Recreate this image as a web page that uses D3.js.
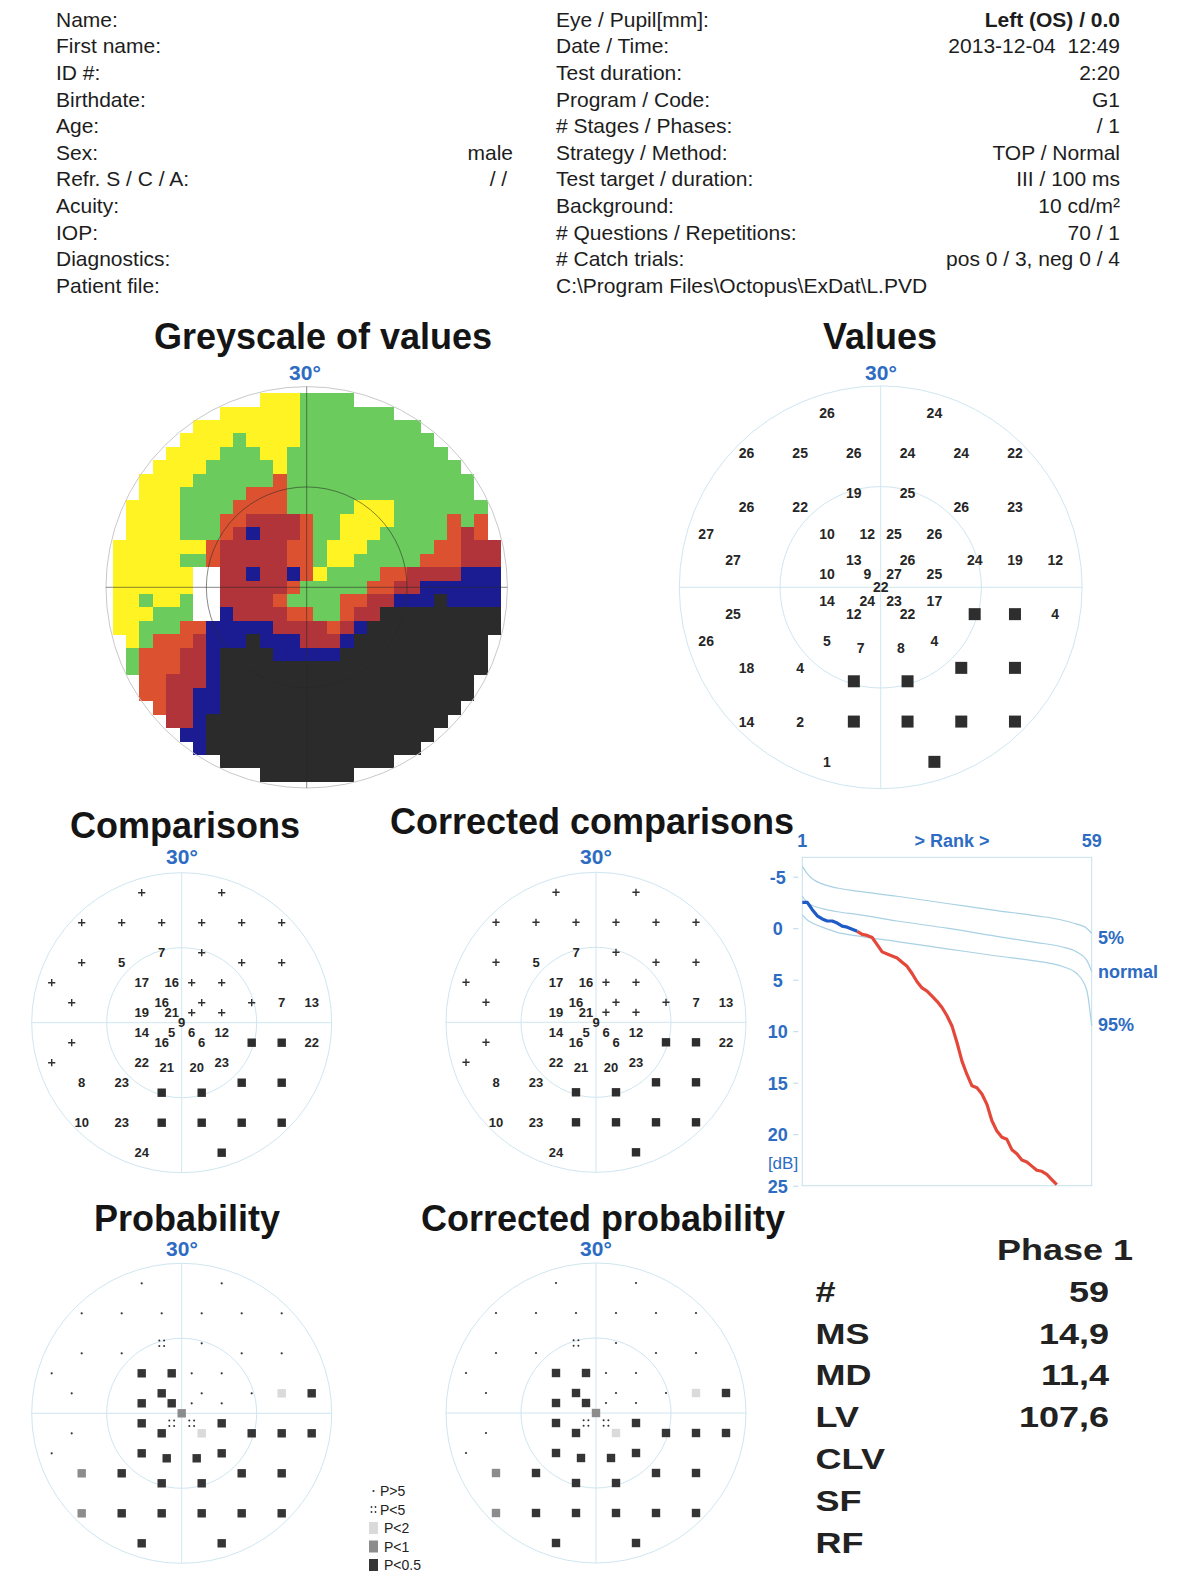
<!DOCTYPE html>
<html><head><meta charset="utf-8">
<script src="https://cdn.jsdelivr.net/npm/d3@7"></script>
<style>
html,body{margin:0;padding:0;background:#fff;}
svg{display:block;}
text{font-family:'Liberation Sans',Arial,sans-serif;}
</style></head><body>
<svg id="c" width="1200" height="1595"></svg>
<script>
// ---------------- DATA ----------------
const headerLeftLabels = ["Name:","First name:","ID #:","Birthdate:","Age:","Sex:","Refr. S / C / A:","Acuity:","IOP:","Diagnostics:","Patient file:"];
const headerLeftValues = ["","","","","","male","/ / ","","","",""];
const headerRightLabels = ["Eye / Pupil[mm]:","Date / Time:","Test duration:","Program / Code:","# Stages / Phases:","Strategy / Method:","Test target / duration:","Background:","# Questions / Repetitions:","# Catch trials:","C:\\Program Files\\Octopus\\ExDat\\L.PVD"];
const headerRightValues = ["Left (OS) / 0.0","2013-12-04  12:49","2:20","G1","/ 1","TOP / Normal","III / 100 ms","10 cd/m²","70 / 1","pos 0 / 3, neg 0 / 4",""];

// G1 test point locations (degrees)
const ptX = [-8,8, -20,-12,-4,4,12,20, -4,4, -20,-12,12,20, -26,-8,-2,2,8, -22,-4,4,14,20,26, -8,-2,2,8, 0, -8,-2,2,8, -22,-4,4,14,20,26, -26,-8,8, -3,3, -20,-12,12,20, -4,4, -20,-12,-4,4,12,20, -8,8];
const ptY = [26,26, 20,20,20,20,20,20, 14,14, 12,12,12,12, 8,8,8,8,8, 4,4,4,4,4,4, 2,2,2,2, 0, -2,-2,-2,-2, -4,-4,-4,-4,-4,-4, -8,-8,-8, -9,-9, -12,-12,-12,-12, -14,-14, -20,-20,-20,-20,-20,-20, -26,-26];
// threshold values (dB); null = absolute defect (black square)
const valuesDb = [26,24, 26,25,26,24,24,22, 19,25, 26,22,26,23, 27,10,12,25,26, 27,13,26,24,19,12, 10,9,27,25, 22, 14,24,23,17, 25,12,22,null,null,4, 26,5,4, 7,8, 18,4,null,null, null,null, 14,2,null,null,null,null, 1,null];
// comparisons (deviation dB); "+" = normal, null = absolute defect
const compDev = ["+","+", "+","+","+","+","+","+", 7,"+", "+",5,"+","+", "+",17,16,"+","+", "+",16,"+","+",7,13, 19,21,"+","+", 9, 14,5,6,12, "+",16,6,null,null,22, "+",22,23, 21,20, 8,23,null,null, null,null, 10,23,null,null,null,null, 24,null];
const corrCompDev = ["+","+", "+","+","+","+","+","+", 7,"+", "+",5,"+","+", "+",17,16,"+","+", "+",16,"+","+",7,13, 19,21,"+","+", 9, 14,5,6,12, "+",16,6,null,null,22, "+",22,23, 21,20, 8,23,null,null, null,null, 10,23,null,null,null,null, 24,null];
// probability class: 0 P>5, 1 P<5, 2 P<2, 3 P<1, 4 P<0.5
const probClass = [0,0, 0,0,0,0,0,0, 1,0, 0,0,0,0, 0,4,4,0,0, 0,4,0,0,2,4, 4,4,0,0, 3, 4,1,1,4, 0,4,2,4,4,4, 0,4,4, 4,4, 3,4,4,4, 4,4, 3,4,4,4,4,4, 4,4];
const corrProbClass = [0,0, 0,0,0,0,0,0, 1,0, 0,0,0,0, 0,4,4,0,0, 0,4,0,0,2,4, 4,4,0,0, 3, 4,1,1,4, 0,4,2,4,4,4, 0,4,4, 4,4, 3,4,4,4, 4,4, 3,4,4,4,4,4, 4,4];
const legendLabels = ["P>5","P<5","P<2","P<1","P<0.5"];

// Greyscale map cells (2° grid, rows top->bottom, cols left->right)
// Y yellow, G green, O orange-red, R dark red, B blue, K black, W blind spot
const greyRows = [
"...........YYYGGGG...........",
"........YYYYYYGGGGGGG........",
"......YYYYYYYYGGGGGGGGG......",
".....YYYYGYYYYGGGGGGGGGG.....",
"....YYYYGGGYYGGGGGGGGGGGG....",
"...YYYYGGGGGYGGGGGGGGGGGGG...",
"..YYYYGGGGGGOGGGGGGGGGGGGGG..",
"..YYYGGGGGOOOGGGGGGGGGGGGGG..",
".YYYYGGGGOOOOGGGGGYYYGGGGGGG.",
".YYYYGGGOORRRROGGYYYYGGGGOGO.",
".YYYYGGGORBRRROGGYYYGGGGGORO.",
"YYYYYYYORRRRROOGYYYGGGGGOORRR",
"YYYYYGGORRRRROOGYYGGGGGOOORRR",
"YYYYYYWWRRBRRBOYGGGGOORRRRBBB",
"YYYYYYWWRRRRROGGGGGOORRBBBBBB",
"YYGYYGWWRRRROGGGGOORRBBBKBBBB",
"YYYGGGWWBRRRROOGGORRKKKKKKKKK",
"YYGGGOOBBBBBRRRRORBKKKKKKKKKK",
".YGOOORBBBKBBBRRRBKKKKKKKKKK.",
".GOOORRBKKKKBBBBBKKKKKKKKKKK.",
".GOOORRBKKKKKKKKKKKKKKKKKKKK.",
"..OORRRBKKKKKKKKKKKKKKKKKKK..",
"..OORRBBKKKKKKKKKKKKKKKKKKK..",
"...ORRBBKKKKKKKKKKKKKKKKKK...",
"....RRBKKKKKKKKKKKKKKKKKK....",
".....BBKKKKKKKKKKKKKKKKK.....",
"......BKKKKKKKKKKKKKKKK......",
"........KKKKKKKKKKKKK........",
"...........KKKKKKK..........."
];

// Cumulative defect (Bebie) curve, dB by rank 1..52 (beyond 25 dB clipped)
const rankDefect = [-2.5,-2.5,-1.8,-1.2,-0.9,-0.7,-0.7,-0.5,-0.2,-0.1,0.1,0.3,0.6,0.7,0.9,1.6,2.3,2.5,2.7,2.9,3.3,3.7,4.4,5.2,5.8,6.1,6.6,7.1,7.7,8.5,9.5,11.1,12.9,14.2,15.3,15.5,16.1,17.1,18.7,19.7,20.3,20.5,21.5,21.9,22.5,22.7,23.1,23.5,23.6,23.9,24.4,24.9];
const bandRanks  = [1,2,3,5,8,12,20,30,40,48,53,56,58,59];
const band5      = [-6.0,-5.3,-4.8,-4.3,-3.9,-3.6,-3.1,-2.4,-1.7,-1.2,-0.8,-0.4,0.0,0.5];
const bandNormal = [-3.1,-2.5,-2.2,-1.9,-1.6,-1.35,-0.7,0.0,0.8,1.4,1.8,2.3,3.1,4.2];
const band95     = [-1.3,-0.8,-0.5,-0.1,0.4,0.75,1.3,2.0,2.7,3.2,3.7,4.4,6.0,9.5];
const dbTicks = [-5,0,5,10,15,20,25];
const bandLabels = ["5%","normal","95%"];

const phaseLabels = ["#","MS","MD","LV","CLV","SF","RF"];
const phaseValues = ["59","14,9","11,4","107,6","","",""];

// ---------------- DRAW ----------------
const svg = d3.select("#c");
const NARROW = "'Liberation Sans Narrow','Arial Narrow','Liberation Sans',Arial,sans-serif";
const BLUE = "#2d6cc2";
const idx = d3.range(ptX.length);

// header
const rowY = d3.scaleLinear().domain([0, 10]).range([26.7, 292.7]);
const hdr = svg.append("g").attr("font-size", 21).attr("fill", "#1d1d1d");
hdr.selectAll(null).data(headerLeftLabels).join("text")
  .attr("x", 56).attr("y", (d,i)=>rowY(i)).text(d=>d);
hdr.selectAll(null).data(headerLeftValues).join("text")
  .attr("x", 513).attr("y", (d,i)=>rowY(i)).attr("text-anchor","end")
  .style("white-space","pre").text(d=>d);
hdr.selectAll(null).data(headerRightLabels).join("text")
  .attr("x", 556).attr("y", (d,i)=>rowY(i)).text(d=>d);
hdr.selectAll(null).data(headerRightValues).join("text")
  .attr("x", 1120).attr("y", (d,i)=>rowY(i)).attr("text-anchor","end")
  .attr("font-weight", (d,i)=> i===0 ? "bold" : null)
  .style("white-space","pre").text(d=>d);

function title(t, x, y) {
  svg.append("text").attr("x", x).attr("y", y).attr("text-anchor","middle")
    .attr("font-size", 36).attr("font-weight","bold").attr("fill","#151515").text(t);
}
function degLabel(x, y) {
  svg.append("text").attr("x", x).attr("y", y).attr("text-anchor","middle")
    .attr("font-size", 21).attr("font-weight","bold").attr("fill", BLUE).text("30°");
}
function polar(cx, cy, r, lineColor, innerColor, crossColor) {
  const g = svg.append("g").attr("transform", `translate(${cx},${cy})`);
  const sx = d3.scaleLinear().domain([-30,30]).range([-r, r]);
  const sy = d3.scaleLinear().domain([-30,30]).range([r, -r]);
  return {g, sx, sy, frame: () => {
    const f = g.append("g").attr("fill","none");
    f.append("circle").attr("r", sx(30)).attr("stroke", lineColor).attr("stroke-width", 1);
    f.append("circle").attr("r", sx(15)).attr("stroke", innerColor || lineColor).attr("stroke-width", 1);
    f.append("line").attr("x1", sx(-30)).attr("x2", sx(30)).attr("y1",0).attr("y2",0)
      .attr("stroke", crossColor || lineColor).attr("stroke-width", 1);
    f.append("line").attr("y1", sy(30)).attr("y2", sy(-30)).attr("x1",0).attr("x2",0)
      .attr("stroke", crossColor || lineColor).attr("stroke-width", 1);
  }};
}

// ---- Greyscale of values
title("Greyscale of values", 323, 349);
degLabel(305, 380);
const colorMap = {Y:"#fff323", G:"#6bcb5c", O:"#dc5230", R:"#b1343a", B:"#1c1c92", K:"#2b2b2b", W:"#ffffff"};
const gs = polar(306.7, 587.3, 200.7, "#c9c9c9", "rgba(40,40,40,0.55)", "rgba(40,40,40,0.55)");
const cells = [];
greyRows.forEach((row, i) => row.split("").forEach((c, j) => {
  if (c !== ".") cells.push({xd: -28 + 2*j, yd: 28 - 2*i, c});
}));
gs.g.append("g").attr("shape-rendering","crispEdges").selectAll("rect").data(cells).join("rect")
  .attr("x", d => gs.sx(d.xd - 1)).attr("y", d => gs.sy(d.yd + 1))
  .attr("width", d => gs.sx(d.xd + 1) - gs.sx(d.xd - 1) + 0.4)
  .attr("height", d => gs.sy(d.yd - 1) - gs.sy(d.yd + 1) + 0.4)
  .attr("fill", d => colorMap[d.c]);
gs.frame();

// ---- Values
title("Values", 880, 349);
degLabel(881, 380);
const LB = "#cfe6f0";
const vp = polar(880.7, 587.3, 201.4, LB);
vp.frame();
vp.g.selectAll("text.v").data(idx.filter(i => valuesDb[i] !== null)).join("text")
  .attr("x", i => vp.sx(ptX[i])).attr("y", i => vp.sy(ptY[i])).attr("dy","0.36em")
  .attr("text-anchor","middle").attr("font-size", 14).attr("font-weight","bold").attr("fill","#262626")
  .text(i => valuesDb[i]);
vp.g.selectAll("rect.v").data(idx.filter(i => valuesDb[i] === null)).join("rect")
  .attr("x", i => vp.sx(ptX[i]) - 6).attr("y", i => vp.sy(ptY[i]) - 6)
  .attr("width", 12).attr("height", 12).attr("fill","#2e2e2e");

// ---- Comparisons
function compPlot(cx, cy, data) {
  const p = polar(cx, cy, 150, LB);
  p.frame();
  const nums = idx.filter(i => typeof data[i] === "number");
  p.g.selectAll("text.c").data(nums).join("text")
    .attr("x", i => p.sx(ptX[i])).attr("y", i => p.sy(ptY[i])).attr("dy","0.36em")
    .attr("text-anchor","middle").attr("font-size", 13).attr("font-weight","bold").attr("fill","#262626")
    .text(i => data[i]);
  p.g.selectAll("path.p").data(idx.filter(i => data[i] === "+")).join("path")
    .attr("transform", i => `translate(${p.sx(ptX[i])},${p.sy(ptY[i])})`)
    .attr("d","M-3.6,0H3.6M0,-3.6V3.6").attr("stroke","#303030").attr("stroke-width",1.4);
  p.g.selectAll("rect.c").data(idx.filter(i => data[i] === null)).join("rect")
    .attr("x", i => p.sx(ptX[i]) - 4.2).attr("y", i => p.sy(ptY[i]) - 4.2)
    .attr("width", 8.4).attr("height", 8.4).attr("fill","#2e2e2e");
}
title("Comparisons", 185, 838);
degLabel(182, 864);
compPlot(181.7, 1022.7, compDev);
title("Corrected comparisons", 592, 834);
degLabel(596, 864);
compPlot(596, 1022.3, corrCompDev);

// ---- Probability
const probFill = ["", "", "#dadada", "#8c8c8c", "#353535"];
function drawProbSymbol(sel, cls) {
  if (cls === 0) {
    sel.append("circle").attr("r", 1.1).attr("fill","#333");
  } else if (cls === 1) {
    [[-2.4,-2.8],[2.4,-2.8],[-2.4,2.8],[2.4,2.8]].forEach(o =>
      sel.append("circle").attr("cx", o[0]).attr("cy", o[1]).attr("r", 1).attr("fill","#333"));
  } else {
    sel.append("rect").attr("x",-4.2).attr("y",-4.2).attr("width",8.4).attr("height",8.4).attr("fill", probFill[cls]);
  }
}
function probPlot(cx, cy, data) {
  const p = polar(cx, cy, 150, LB);
  p.frame();
  p.g.selectAll("g.s").data(idx).join("g")
    .attr("transform", i => `translate(${p.sx(ptX[i])},${p.sy(ptY[i])})`)
    .each(function(i){ drawProbSymbol(d3.select(this), data[i]); });
}
title("Probability", 187, 1231);
degLabel(182, 1256);
probPlot(181.7, 1413.3, probClass);
title("Corrected probability", 603, 1231);
degLabel(596, 1256);
probPlot(596, 1413, corrProbClass);

// legend
const legY = d3.scaleLinear().domain([0,4]).range([1491, 1565]);
const leg = svg.append("g");
legendLabels.forEach((t, k) => {
  const sg = leg.append("g").attr("transform", `translate(373.5,${legY(k)})`);
  if (k === 0) sg.append("circle").attr("r",1.1).attr("fill","#333");
  else if (k === 1) [[-2,-2.5],[2,-2.5],[-2,2.5],[2,2.5]].forEach(o => sg.append("circle").attr("cx",o[0]).attr("cy",o[1]).attr("r",0.9).attr("fill","#333"));
  else sg.append("rect").attr("x",-4.5).attr("y",-6).attr("width",9).attr("height",12).attr("fill", probFill[k]);
  leg.append("text").attr("x", k < 2 ? 380 : 384).attr("y", legY(k)).attr("dy","0.36em")
    .attr("font-size", 14).attr("font-family", NARROW).attr("fill","#222").text(t);
});

// ---- Rank curve
const rx = d3.scaleLinear().domain([1,59]).range([802.3,1091.7]);
const ry = d3.scaleLinear().domain([-5,25]).range([876.7,1185.7]);
const rk = svg.append("g");
rk.append("rect").attr("x", rx(1)).attr("y", ry(-6.88)).attr("width", rx(59)-rx(1))
  .attr("height", ry(25)-ry(-6.88)).attr("fill","none").attr("stroke","#c6e0ec").attr("stroke-width",1);
const yAxis = d3.axisLeft(ry).tickValues(dbTicks).tickSize(5).tickPadding(0).tickFormat(d => String(d));
const ax = rk.append("g").attr("transform","translate(798.3,0)").call(yAxis);
ax.select(".domain").remove();
ax.selectAll(".tick line").attr("stroke","#b9d8e8");
ax.selectAll(".tick text").attr("x", -20.5).attr("text-anchor","middle").attr("dy","0.36em")
  .attr("font-size", 18).attr("font-weight","bold").attr("font-family", NARROW).attr("fill", BLUE);
rk.append("text").attr("x", 783).attr("y", 1169).attr("text-anchor","middle")
  .attr("font-size", 17).attr("font-family", NARROW).attr("fill", BLUE).text("[dB]");
const topT = (t, x, anchor) => rk.append("text").attr("x", x).attr("y", 847).attr("text-anchor", anchor)
  .attr("font-size", 18).attr("font-weight","bold").attr("font-family", NARROW).attr("fill", BLUE).text(t);
topT("1", rx(1), "middle");
topT("> Rank >", 952, "middle");
topT("59", rx(59), "middle");
const bandLine = d3.line().x(d => rx(d[0])).y(d => ry(d[1])).curve(d3.curveMonotoneX);
[band5, bandNormal, band95].forEach(b => {
  rk.append("path").attr("d", bandLine(bandRanks.map((r,k)=>[r, b[k]])))
    .attr("fill","none").attr("stroke","#a9d1e4").attr("stroke-width",1.2);
});
const bandLabelY = [944, 978, 1031];
bandLabels.forEach((t,k) => rk.append("text").attr("x", 1098).attr("y", bandLabelY[k])
  .attr("font-size", 18).attr("font-weight","bold").attr("font-family", NARROW).attr("fill", BLUE).text(t));
const defLine = d3.line().x(d => rx(d[0])).y(d => ry(d[1]));
const pts = rankDefect.map((v,k)=>[k+1, v]);
rk.append("path").attr("d", defLine(pts.slice(11))).attr("fill","none")
  .attr("stroke","#e4483a").attr("stroke-width",3.2).attr("stroke-linejoin","round");
rk.append("path").attr("d", defLine(pts.slice(0,12))).attr("fill","none")
  .attr("stroke","#1f5bc6").attr("stroke-width",3.2).attr("stroke-linejoin","round");

// ---- Phase table
const phY = d3.scaleLinear().domain([0,6]).range([1301.7, 1552.7]);
const ph = svg.append("g").attr("font-size", 30).attr("font-weight","bold").attr("fill","#222");
ph.append("text").attr("transform","translate(1133,1260) scale(1.2,1)").attr("text-anchor","end").text("Phase 1");
phaseLabels.forEach((t,k) => ph.append("text")
  .attr("transform", `translate(815.6,${phY(k)}) scale(1.2,1)`).text(t));
phaseValues.forEach((t,k) => ph.append("text")
  .attr("transform", `translate(1109,${phY(k)}) scale(1.2,1)`).attr("text-anchor","end").text(t));
</script></body></html>
